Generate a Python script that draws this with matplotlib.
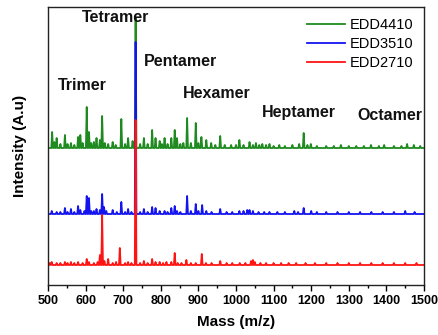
import numpy as np
import matplotlib
matplotlib.use("Agg")
import matplotlib.pyplot as plt

plt.rcParams['font.family'] = ['Liberation Sans', 'DejaVu Sans']

# Peak lists (m/z, intensity in a.u.) for each sample
edd4410_mz = [511, 517, 523, 533, 545, 552, 561, 570, 580, 586, 592, 603, 609, 615, 622, 629,
              638, 644, 651, 660, 672, 680, 695, 705, 713, 725, 733, 745, 755, 765, 777, 786,
              797, 803, 810, 818, 828, 837, 843, 852, 860, 870, 880, 893, 900, 908, 921, 934,
              945, 958, 970, 987, 1000, 1009, 1020, 1036, 1045, 1053, 1062, 1070, 1080, 1089,
              1100, 1115, 1130, 1150, 1168, 1180, 1190, 1199, 1215, 1240, 1260, 1279, 1300,
              1320, 1340, 1359, 1380, 1394, 1420, 1440, 1455, 1473, 1490]
edd4410_int = [16, 6, 10, 4, 13, 4, 5, 3, 11, 13, 5, 41, 16, 5, 6, 10,
               8, 32, 5, 4, 6, 3, 29, 4, 10, 7, 130, 4, 10, 4, 18, 10,
               7, 4, 10, 4, 10, 18, 10, 4, 5, 30, 5, 25, 5, 11, 8, 5,
               3, 12, 3, 3, 3, 8, 3, 6, 3, 5, 3, 4, 3, 4,
               2, 3, 2, 3, 4, 15, 3, 4, 2, 2, 2, 3, 2,
               2, 2, 3, 2, 3, 2, 2, 4, 3, 2]

edd3510_mz = [510, 523, 533, 545, 552, 561, 570, 580, 586, 597, 603, 609, 615, 622, 629, 638,
              644, 649, 655, 672, 683, 695, 705, 713, 722, 733, 745, 755, 765, 777, 786, 797,
              810, 818, 828, 837, 843, 852, 870, 880, 893, 900, 910, 921, 935, 958, 975, 990,
              1009, 1020, 1030, 1036, 1045, 1060, 1075, 1089, 1110, 1130, 1155, 1165, 1180,
              1200, 1215, 1240, 1270, 1300, 1330, 1360, 1390, 1420, 1450, 1475]
edd3510_int = [3, 2, 2, 6, 2, 5, 2, 8, 4, 3, 18, 16, 3, 3, 5, 4,
               20, 7, 3, 4, 2, 12, 2, 5, 2, 172, 2, 5, 2, 7, 6, 3,
               3, 2, 6, 8, 3, 2, 18, 3, 10, 3, 9, 3, 2, 5, 2, 2,
               3, 3, 4, 4, 3, 2, 2, 2, 2, 2, 3, 2, 6,
               3, 2, 2, 2, 2, 2, 2, 2, 2, 3, 2]

edd2710_mz = [505, 510, 523, 533, 545, 552, 561, 570, 580, 592, 603, 609, 622, 632, 638, 644,
              650, 660, 672, 681, 691, 705, 713, 722, 733, 745, 755, 765, 777, 786, 797, 806,
              815, 828, 837, 845, 855, 868, 880, 893, 909, 920, 935, 958, 975, 990, 1010, 1025,
              1040, 1045, 1050, 1065, 1080, 1100, 1120, 1140, 1160, 1185, 1210, 1240, 1270,
              1300, 1330, 1360, 1390, 1420, 1450, 1480]
edd2710_int = [2, 3, 2, 2, 3, 2, 3, 2, 3, 2, 6, 3, 2, 3, 10, 50,
               4, 6, 2, 3, 17, 2, 3, 2, 145, 2, 4, 2, 6, 3, 3, 2,
               3, 3, 12, 2, 2, 5, 2, 2, 11, 2, 2, 4, 2, 2, 2, 2,
               4, 5, 3, 2, 2, 2, 2, 2, 2, 2, 2, 2, 2,
               2, 2, 2, 2, 2, 2, 2]

series_names = ["EDD4410", "EDD3510", "EDD2710"]
oligomer_labels = ["Trimer", "Tetramer", "Pentamer", "Hexamer", "Heptamer", "Octamer"]
x_ticks = [500, 600, 700, 800, 900, 1000, 1100, 1200, 1300, 1400, 1500]

# Layout: vertical stacking offsets and colours
offsets = [137, 71, 20]
colors = ["#1f8a1f", "#1414f0", "#ff1414"]
half_width = 2.2


def stick_trace(mz, inten, offset):
    """Build a line trace with narrow triangular peaks on a flat baseline."""
    order = np.argsort(mz)
    xs = [500.0]
    ys = [offset]
    for i in order:
        m, h = mz[i], inten[i]
        xs += [m - half_width, m, m + half_width]
        ys += [offset, offset + h, offset]
    xs.append(1500.0)
    ys.append(offset)
    return np.array(xs), np.array(ys)


fig = plt.figure(figsize=(4.38, 3.35), dpi=100)
ax = fig.add_axes([48 / 438, 50 / 335, 376 / 438, 278 / 335])

data = [(edd4410_mz, edd4410_int), (edd3510_mz, edd3510_int), (edd2710_mz, edd2710_int)]
for (mz, inten), off, c, name in zip(data, offsets, colors, series_names):
    x, y = stick_trace(mz, inten, off)
    ax.plot(x, y, color=c, lw=1.3, label=name)

ax.set_xlim(500, 1500)
ax.set_ylim(0, 278)
ax.set_xticks(x_ticks)
ax.set_xticks(np.arange(550, 1500, 100), minor=True)
ax.set_yticks([])
ax.tick_params(axis='x', which='major', direction='out', length=4, width=1.0,
               labelsize=9, pad=3)
ax.tick_params(axis='x', which='minor', direction='out', length=2.5, width=1.0)
for lbl in ax.get_xticklabels():
    lbl.set_fontweight('bold')
for s in ax.spines.values():
    s.set_linewidth(1.0)
    s.set_color('#222222')

ax.set_xlabel("Mass (m/z)", fontsize=11, fontweight='bold', labelpad=6)
ax.set_ylabel("Intensity (A.u)", fontsize=11, fontweight='bold', labelpad=15)

# Oligomer annotations (x in m/z, y in a.u.)
label_pos = [(525, 200), (590, 267), (754, 223), (859, 192), (1069, 172), (1324, 170)]
for txt, (lx, ly) in zip(oligomer_labels, label_pos):
    ax.text(lx, ly, txt, fontsize=11.5, fontweight='bold', ha='left', va='center',
            color='#111111')

leg = ax.legend(loc='upper right', frameon=False, fontsize=10.5, handlelength=2.6,
                handletextpad=0.3, labelspacing=0.35, borderaxespad=0.35)

fig.savefig("out.png", dpi=100)
